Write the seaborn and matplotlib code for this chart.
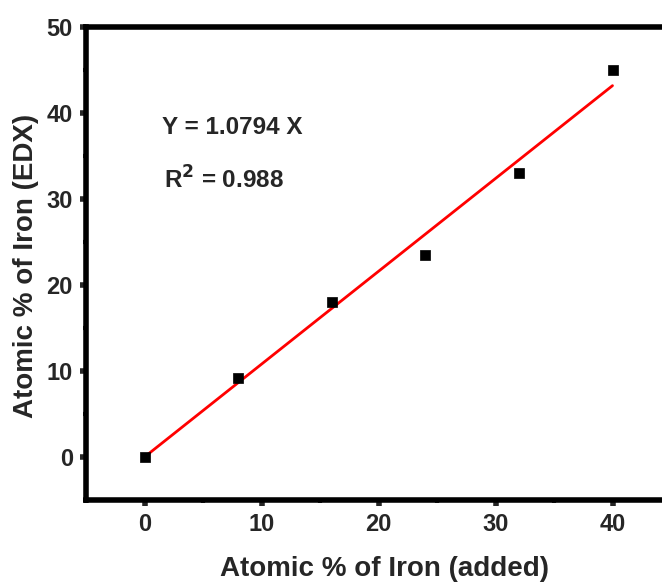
import matplotlib
matplotlib.use("Agg")
import matplotlib.pyplot as plt
import seaborn as sns
import pandas as pd
from matplotlib.ticker import MultipleLocator

added = [0, 8, 16, 24, 32, 40]
edx = [0, 9.2, 18.0, 23.5, 33.0, 45.0]
fit_x = [0, 40]
fit_y = [0, 43.18]
x_ticks = [0, 10, 20, 30, 40]
y_ticks = [0, 10, 20, 30, 40, 50]

sns.set_style("white")
plt.rcParams['font.family'] = ['Liberation Sans', 'DejaVu Sans']
plt.rcParams['font.weight'] = 'bold'

fig = plt.figure(figsize=(6.62, 5.83), dpi=100)
ax = fig.add_axes([86/662, 1-500/583, (671-86)/662, (500-27)/583])

df = pd.DataFrame({"x": added, "y": edx})
fit = pd.DataFrame({"x": fit_x, "y": fit_y})
sns.lineplot(data=fit, x="x", y="y", color="red", linewidth=2, ax=ax, zorder=2)
sns.scatterplot(data=df, x="x", y="y", marker="s", s=60, color="black",
                edgecolor="black", linewidth=0.5, ax=ax, zorder=3)

ax.set_xlim(-5, 45)
ax.set_ylim(-5, 50)
ax.set_xticks(x_ticks)
ax.set_yticks(y_ticks)
ax.xaxis.set_minor_locator(MultipleLocator(5))
ax.yaxis.set_minor_locator(MultipleLocator(5))
for s in ax.spines.values():
    s.set_linewidth(4)
    s.set_color("black")
ax.tick_params(which="major", direction="out", length=4.5, width=4, labelsize=17,
               bottom=True, left=True, top=False, right=False, pad=5)
ax.tick_params(which="minor", direction="out", length=2.5, width=3,
               bottom=True, left=True, top=False, right=False)
for lab in ax.get_xticklabels() + ax.get_yticklabels():
    lab.set_fontweight("bold")

ax.set_xlabel("Atomic % of Iron (added)", fontsize=20, fontweight="bold", va="top")
ax.set_ylabel("Atomic % of Iron (EDX)", fontsize=20, fontweight="bold", va="center")
ax.xaxis.set_label_coords((384-86)/585, -(556-500)/473)
ax.yaxis.set_label_coords(-(86-26)/585, 0.495)

ax.text(1.5, 38.3, "Y = 1.0794 X", fontsize=17.5, fontweight="bold", va="center", ha="left")
ax.text(1.7, 32.2, r"R$^\mathbf{2}$ = 0.988", fontsize=17.5, fontweight="bold", va="center", ha="left")

fig.savefig("out.png", dpi=100)
